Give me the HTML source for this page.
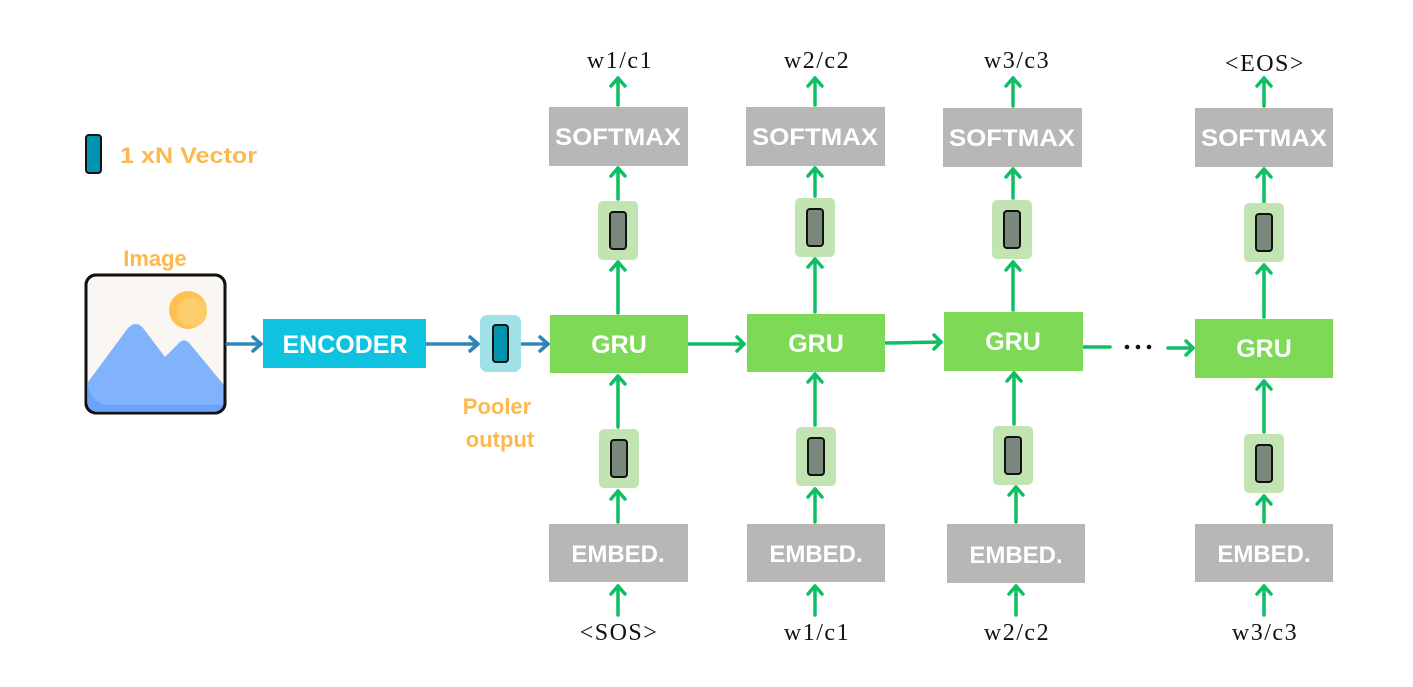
<!DOCTYPE html>
<html><head><meta charset="utf-8"><style>
html,body{margin:0;padding:0;background:#fff;}
svg{display:block;}
.box{font-family:"Liberation Sans",sans-serif;font-weight:bold;fill:#fff;text-anchor:middle;}
.lbl{font-family:"Liberation Serif",serif;font-size:24px;letter-spacing:1.5px;fill:#111;text-anchor:middle;}
.or{font-family:"Liberation Sans",sans-serif;font-weight:bold;fill:#fdb84e;font-size:22px;}
</style></head><body>
<svg width="1413" height="687" viewBox="0 0 1413 687" xmlns="http://www.w3.org/2000/svg">
<defs>
<g id="vecg"><rect x="0" y="0" width="40" height="59" rx="5" fill="#c2e4b3"/><rect x="12" y="11" width="16" height="37" rx="3" fill="#7a887c" stroke="#111" stroke-width="2"/></g>
</defs>
<rect x="86" y="135" width="15" height="38" rx="3" fill="#0094b1" stroke="#111" stroke-width="2"/>
<text class="or" x="120" y="163" font-size="24" textLength="137" lengthAdjust="spacingAndGlyphs">1 xN Vector</text>
<text class="or" x="155" y="266" text-anchor="middle" font-size="23">Image</text>
<rect x="86" y="275" width="139" height="138" rx="10" fill="#f9f6f3" stroke="#111" stroke-width="3"/>
<circle cx="188" cy="310" r="19" fill="#fec052"/>
<circle cx="192" cy="312" r="15" fill="#fecd6b"/>
<path d="M88 382 L128 328 Q136 320 143 328 L165 357 L180 342 Q185 338 190 344 L224 385 L224 404 Q224 411 216 411 L96 411 Q88 411 88 404 Z" fill="#80b3fc"/>
<path d="M88 385 Q92 405 110 405 L224 405 L224 404 Q224 411 216 411 L96 411 Q88 411 88 404 Z" fill="#6aa2fb"/>
<rect x="86" y="275" width="139" height="138" rx="10" fill="none" stroke="#111" stroke-width="3"/>
<g stroke="#2f85b8" stroke-width="3.5" fill="none" stroke-linecap="round" stroke-linejoin="round">
<line x1="227" y1="344" x2="261" y2="344"/><polyline points="253,337 261,344 253,351"/>
<line x1="427" y1="344" x2="478" y2="344"/><polyline points="470,337 478,344 470,351"/>
<line x1="522" y1="344" x2="548" y2="344"/><polyline points="540,337 548,344 540,351"/>
</g>
<rect x="263" y="319" width="163" height="49" fill="#0fc2df"/>
<text class="box" x="345" y="353" font-size="25">ENCODER</text>
<rect x="480" y="315" width="41" height="57" rx="7" fill="#9ee1e6"/>
<rect x="493" y="325" width="15" height="37" rx="3" fill="#0094b1" stroke="#111" stroke-width="2"/>
<text class="or" x="497" y="414" text-anchor="middle" font-size="23">Pooler</text>
<text class="or" x="500" y="447" text-anchor="middle" font-size="23">output</text>

<g stroke="#0dbf62" stroke-width="3.5" fill="none" stroke-linecap="round" stroke-linejoin="round">
<line x1="618" y1="105" x2="618" y2="78"/><polyline points="611,86 618,78 625,86"/>
<line x1="618" y1="199" x2="618" y2="168"/><polyline points="611,176 618,168 625,176"/>
<line x1="618" y1="313" x2="618" y2="262"/><polyline points="611,270 618,262 625,270"/>
<line x1="618" y1="427" x2="618" y2="376"/><polyline points="611,384 618,376 625,384"/>
<line x1="618" y1="522" x2="618" y2="491"/><polyline points="611,499 618,491 625,499"/>
<line x1="618" y1="615" x2="618" y2="586"/><polyline points="611,594 618,586 625,594"/>
<line x1="815" y1="105" x2="815" y2="78"/><polyline points="808,86 815,78 822,86"/>
<line x1="815" y1="196" x2="815" y2="168"/><polyline points="808,176 815,168 822,176"/>
<line x1="815" y1="312" x2="815" y2="259"/><polyline points="808,267 815,259 822,267"/>
<line x1="815" y1="425" x2="815" y2="374"/><polyline points="808,382 815,374 822,382"/>
<line x1="815" y1="522" x2="815" y2="489"/><polyline points="808,497 815,489 822,497"/>
<line x1="815" y1="615" x2="815" y2="586"/><polyline points="808,594 815,586 822,594"/>
<line x1="1013" y1="106" x2="1013" y2="78"/><polyline points="1006,86 1013,78 1020,86"/>
<line x1="1013" y1="198" x2="1013" y2="169"/><polyline points="1006,177 1013,169 1020,177"/>
<line x1="1013" y1="310" x2="1013" y2="262"/><polyline points="1006,270 1013,262 1020,270"/>
<line x1="1014" y1="424" x2="1014" y2="373"/><polyline points="1007,381 1014,373 1021,381"/>
<line x1="1016" y1="522" x2="1016" y2="487"/><polyline points="1009,495 1016,487 1023,495"/>
<line x1="1016" y1="615" x2="1016" y2="586"/><polyline points="1009,594 1016,586 1023,594"/>
<line x1="1264" y1="106" x2="1264" y2="78"/><polyline points="1257,86 1264,78 1271,86"/>
<line x1="1264" y1="202" x2="1264" y2="169"/><polyline points="1257,177 1264,169 1271,177"/>
<line x1="1264" y1="317" x2="1264" y2="265"/><polyline points="1257,273 1264,265 1271,273"/>
<line x1="1264" y1="432" x2="1264" y2="381"/><polyline points="1257,389 1264,381 1271,389"/>
<line x1="1264" y1="522" x2="1264" y2="496"/><polyline points="1257,504 1264,496 1271,504"/>
<line x1="1264" y1="615" x2="1264" y2="586"/><polyline points="1257,594 1264,586 1271,594"/>
<line x1="689" y1="344" x2="744" y2="344"/><polyline points="737,337 744,344 737,351"/>
<line x1="886" y1="343" x2="941" y2="342"/><polyline points="934,335 941,342 934,349"/>
<line x1="1084" y1="347" x2="1110" y2="347"/>
<line x1="1168" y1="348" x2="1193" y2="348"/><polyline points="1186,341 1193,348 1186,355"/>
</g>
<circle cx="1127" cy="347" r="2.3" fill="#111"/><circle cx="1138" cy="347" r="2.3" fill="#111"/><circle cx="1149" cy="347" r="2.3" fill="#111"/>

<g fill="#b8b7b5">
<rect x="549" y="107" width="139" height="59"/><rect x="746" y="107" width="139" height="59"/>
<rect x="943" y="108" width="139" height="59"/><rect x="1195" y="108" width="138" height="59"/>
<rect x="549" y="524" width="139" height="58"/><rect x="747" y="524" width="138" height="58"/>
<rect x="947" y="524" width="138" height="59"/><rect x="1195" y="524" width="138" height="58"/>
</g>
<g fill="#7ed957">
<rect x="550" y="315" width="138" height="58"/><rect x="747" y="314" width="138" height="58"/>
<rect x="944" y="312" width="139" height="59"/><rect x="1195" y="319" width="138" height="59"/>
</g>
<g class="box" font-size="24">
<text x="618" y="145" textLength="126" lengthAdjust="spacingAndGlyphs">SOFTMAX</text><text x="815" y="145" textLength="126" lengthAdjust="spacingAndGlyphs">SOFTMAX</text><text x="1012" y="146" textLength="126" lengthAdjust="spacingAndGlyphs">SOFTMAX</text><text x="1264" y="146" textLength="126" lengthAdjust="spacingAndGlyphs">SOFTMAX</text>
<text x="618" y="562">EMBED.</text><text x="816" y="562">EMBED.</text><text x="1016" y="563">EMBED.</text><text x="1264" y="562">EMBED.</text>
</g>
<g class="box" font-size="25">
<text x="619" y="353">GRU</text><text x="816" y="352">GRU</text><text x="1013" y="350">GRU</text><text x="1264" y="357">GRU</text>
</g>
<use href="#vecg" x="598" y="201"/><use href="#vecg" x="795" y="198"/><use href="#vecg" x="992" y="200"/><use href="#vecg" x="1244" y="203"/>
<use href="#vecg" x="599" y="429"/><use href="#vecg" x="796" y="427"/><use href="#vecg" x="993" y="426"/><use href="#vecg" x="1244" y="434"/>

<g class="lbl">
<text x="620" y="68">w1/c1</text><text x="817" y="68">w2/c2</text><text x="1017" y="68">w3/c3</text><text x="1265" y="71">&lt;EOS&gt;</text>
<text x="619" y="640">&lt;SOS&gt;</text><text x="817" y="640">w1/c1</text><text x="1017" y="640">w2/c2</text><text x="1265" y="640">w3/c3</text>
</g>
</svg>
</body></html>
